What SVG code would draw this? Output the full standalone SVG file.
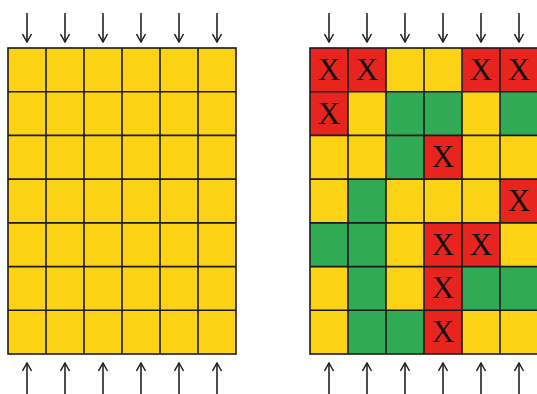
<svg xmlns="http://www.w3.org/2000/svg" width="537" height="394" viewBox="0 0 537 394">
<style>
.y{fill:#FCD215}.g{fill:#30AA55}.r{fill:#E8241F}
.cell{stroke:#1a1a1a;stroke-width:1.6}
.x{font-family:"Liberation Serif",serif;font-size:31px;fill:#111;text-anchor:middle}
.arr{stroke:#222;stroke-width:1.6;fill:none}
</style>
<defs>
<marker id="ah" viewBox="0 0 10 10" refX="9" refY="5" markerWidth="10" markerHeight="11" markerUnits="userSpaceOnUse" orient="auto">
<path d="M1,0.5 L9,5 L1,9.5" fill="none" stroke="#222" stroke-width="1.5"/>
</marker>
</defs>
<g id="left-grid">
<rect x="8" y="48" width="228" height="306" class="y"/>
<g class="cell" fill="none">
<rect x="8" y="48" width="228" height="306"/>
<path d="M46,48V354M84,48V354M122,48V354M160,48V354M198,48V354"/>
<path d="M8,91.7H236M8,135.4H236M8,179.1H236M8,222.9H236M8,266.6H236M8,310.3H236"/>
</g>
</g>
<g id="right-grid">
<g>
<rect x="310" y="48" width="38" height="43.7" class="r"/><rect x="348" y="48" width="38" height="43.7" class="r"/><rect x="386" y="48" width="38" height="43.7" class="y"/><rect x="424" y="48" width="38" height="43.7" class="y"/><rect x="462" y="48" width="38" height="43.7" class="r"/><rect x="500" y="48" width="38" height="43.7" class="r"/>
<rect x="310" y="91.7" width="38" height="43.7" class="r"/><rect x="348" y="91.7" width="38" height="43.7" class="y"/><rect x="386" y="91.7" width="38" height="43.7" class="g"/><rect x="424" y="91.7" width="38" height="43.7" class="g"/><rect x="462" y="91.7" width="38" height="43.7" class="y"/><rect x="500" y="91.7" width="38" height="43.7" class="g"/>
<rect x="310" y="135.4" width="38" height="43.7" class="y"/><rect x="348" y="135.4" width="38" height="43.7" class="y"/><rect x="386" y="135.4" width="38" height="43.7" class="g"/><rect x="424" y="135.4" width="38" height="43.7" class="r"/><rect x="462" y="135.4" width="38" height="43.7" class="y"/><rect x="500" y="135.4" width="38" height="43.7" class="y"/>
<rect x="310" y="179.1" width="38" height="43.7" class="y"/><rect x="348" y="179.1" width="38" height="43.7" class="g"/><rect x="386" y="179.1" width="38" height="43.7" class="y"/><rect x="424" y="179.1" width="38" height="43.7" class="y"/><rect x="462" y="179.1" width="38" height="43.7" class="y"/><rect x="500" y="179.1" width="38" height="43.7" class="r"/>
<rect x="310" y="222.9" width="38" height="43.7" class="g"/><rect x="348" y="222.9" width="38" height="43.7" class="g"/><rect x="386" y="222.9" width="38" height="43.7" class="y"/><rect x="424" y="222.9" width="38" height="43.7" class="r"/><rect x="462" y="222.9" width="38" height="43.7" class="r"/><rect x="500" y="222.9" width="38" height="43.7" class="y"/>
<rect x="310" y="266.6" width="38" height="43.7" class="y"/><rect x="348" y="266.6" width="38" height="43.7" class="g"/><rect x="386" y="266.6" width="38" height="43.7" class="y"/><rect x="424" y="266.6" width="38" height="43.7" class="r"/><rect x="462" y="266.6" width="38" height="43.7" class="g"/><rect x="500" y="266.6" width="38" height="43.7" class="g"/>
<rect x="310" y="310.3" width="38" height="43.7" class="y"/><rect x="348" y="310.3" width="38" height="43.7" class="g"/><rect x="386" y="310.3" width="38" height="43.7" class="g"/><rect x="424" y="310.3" width="38" height="43.7" class="r"/><rect x="462" y="310.3" width="38" height="43.7" class="y"/><rect x="500" y="310.3" width="38" height="43.7" class="y"/>
</g>
<g class="cell" fill="none">
<rect x="310" y="48" width="228" height="306"/>
<path d="M348,48V354M386,48V354M424,48V354M462,48V354M500,48V354"/>
<path d="M310,91.7H538M310,135.4H538M310,179.1H538M310,222.9H538M310,266.6H538M310,310.3H538"/>
</g>
<g class="x">
<text x="329" y="80">X</text><text x="367" y="80">X</text><text x="481" y="80">X</text><text x="519" y="80">X</text>
<text x="329" y="124">X</text>
<text x="443" y="167">X</text>
<text x="519" y="211">X</text>
<text x="443" y="255">X</text><text x="481" y="255">X</text>
<text x="443" y="298">X</text>
<text x="443" y="342">X</text>
</g>
</g>
<g id="connectors" class="arr">
<g marker-end="url(#ah)">
<path d="M27,13V42"/><path d="M65,13V42"/><path d="M103,13V42"/><path d="M141,13V42"/><path d="M179,13V42"/><path d="M217,13V42"/>
<path d="M329,13V42"/><path d="M367,13V42"/><path d="M405,13V42"/><path d="M443,13V42"/><path d="M481,13V42"/><path d="M519,13V42"/>
<path d="M27,394V363"/><path d="M65,394V363"/><path d="M103,394V363"/><path d="M141,394V363"/><path d="M179,394V363"/><path d="M217,394V363"/>
<path d="M329,394V363"/><path d="M367,394V363"/><path d="M405,394V363"/><path d="M443,394V363"/><path d="M481,394V363"/><path d="M519,394V363"/>
</g>
</g>
</svg>
